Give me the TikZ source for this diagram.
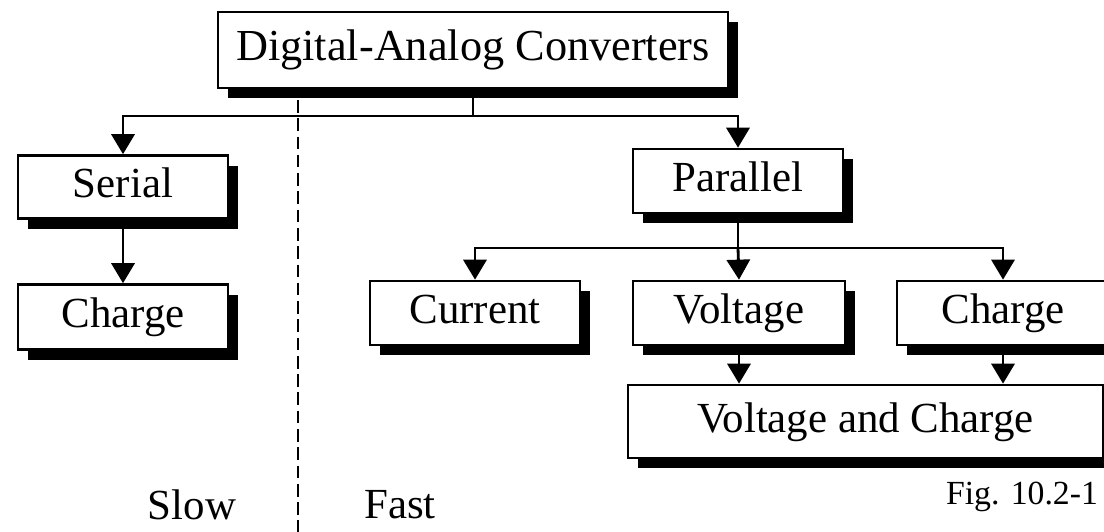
\documentclass[tikz,border=0pt]{standalone}
\usepackage{fontspec}
\setmainfont{Liberation Serif}
\usetikzlibrary{arrows.meta, positioning, shadows}

\begin{document}
\begin{tikzpicture}[
    x=0.025cm, y=-0.025cm,
    box/.style={rectangle, draw, fill=white, line width=1.9pt, inner sep=0pt, text height=21pt, text depth=6pt, font=\fontsize{30.5}{36}\selectfont, drop shadow={shadow xshift=0.26cm, shadow yshift=-0.26cm, fill=black, opacity=1}},
    arr/.style={line width=2pt, -{Triangle[length=0.5cm, width=0.58cm]}},
    lbl/.style={inner sep=0pt, font=\fontsize{30.5}{36}\selectfont},
]
    \useasboundingbox (0,0) rectangle (1104,532);

    \node[box, minimum width=12.75cm, minimum height=1.9cm, font=\fontsize{31.5}{36}\selectfont] (dac) at (473,50) {Digital-Analog Converters};
    \node[box, minimum width=5.25cm, minimum height=1.575cm] (serial) at (123,187) {Serial};
    \node[box, minimum width=5.25cm, minimum height=1.625cm] (chargeS) at (123,317) {Charge};
    \node[box, minimum width=5.25cm, minimum height=1.6cm] (parallel) at (738,181) {Parallel};
    \node[box, minimum width=5.25cm, minimum height=1.6cm] (current) at (475,313) {Current};
    \node[box, minimum width=5.3cm, minimum height=1.6cm] (voltage) at (739,313) {Voltage};
    \node[box, minimum width=5.3cm, minimum height=1.6cm] (chargeP) at (1003,313) {Charge};
    \node[box, minimum width=11.875cm, minimum height=1.825cm] (vac) at (865.5,421.5) {Voltage and Charge};

    % branch points
    \coordinate (top) at (dac.south |- 0,116);
    \coordinate (mid) at (parallel.south |- 0,248);

    \draw[arr] (dac.south) -- (top) -| (serial.north);
    \draw[arr] (top) -| (parallel.north);
    \draw[arr] (serial.south) -- (chargeS.north);
    \draw[arr] (parallel.south) -- (mid) -| (current.north);
    \draw[arr] (mid) -- (voltage.north);
    \draw[arr] (mid) -| (chargeP.north);
    \draw[arr] (voltage.south) -- (voltage.south |- vac.north);
    \draw[arr] (chargeP.south) -- (chargeP.south |- vac.north);

    % slow / fast divider
    \draw[line width=1.8pt, dash pattern=on 9pt off 4pt] (298,100) -- (298,532);

    \node[lbl] (slow) at (192,505) {Slow};
    \node[lbl] (fast) at (400,505) {Fast};
    \node[lbl, font=\fontsize{24}{28}\selectfont] (fig) at (1022,497) {Fig. 10.2-1};
\end{tikzpicture}
\end{document}
